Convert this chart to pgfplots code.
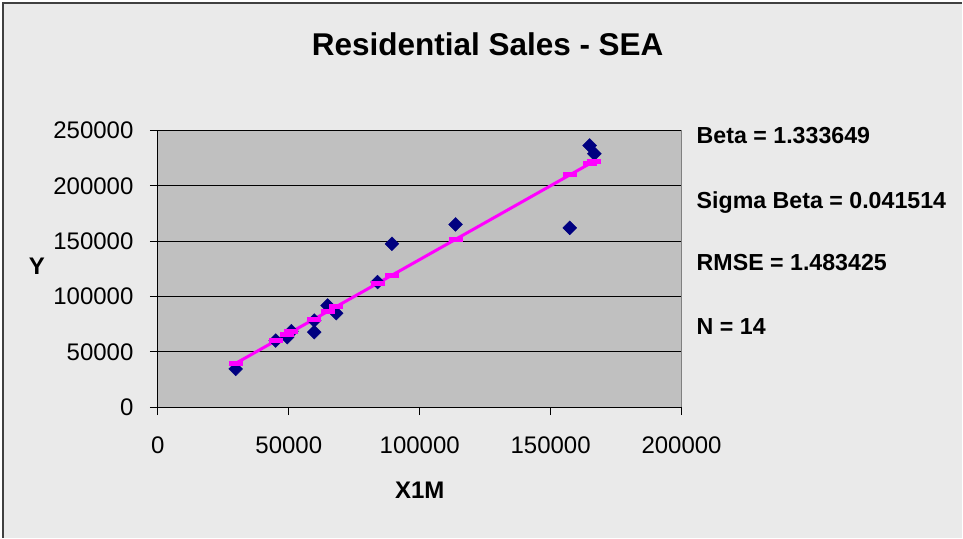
\documentclass[border=0pt]{standalone}
\usepackage{fontspec}
\setmainfont{Liberation Sans}
\usepackage{pgfplots}
\pgfplotsset{compat=1.18}
\definecolor{bg}{HTML}{EAEAEA}
\definecolor{pg}{HTML}{C0C0C0}
\definecolor{navy}{HTML}{000080}
\definecolor{mag}{HTML}{FF00FF}
\begin{document}
\begin{tikzpicture}[x=1pt,y=1pt]
\fill[white] (0,0) rectangle (963,538);
\fill[bg] (3,0) rectangle (963,535);
\draw[line width=1.3pt, black!75] (3,0) -- (3,535) -- (963,535);
\begin{axis}[
  at={(158pt,130.5pt)}, anchor=south west, scale only axis,
  width=524pt, height=277pt,
  xmin=0, xmax=200000, ymin=0, ymax=250000,
  xtick={0,50000,100000,150000,200000},
  xticklabels={0,50000,100000,150000,200000},
  ytick={0,50000,100000,150000,200000,250000},
  yticklabels={0,50000,100000,150000,200000,250000},
  scaled ticks=false,
  axis x line*=bottom, axis y line*=left,
  axis line style={-, black, line width=1pt},
  tick align=outside, major tick length=8pt,
  tick style={black, line width=1pt},
  ymajorgrids, major grid style={black, line width=1pt},
  axis background/.style={fill=pg},
  tick label style={font=\fontsize{24}{28}\selectfont},
  xticklabel style={yshift=-18pt},
  yticklabel style={xshift=-13pt},
  clip=false,
]
\addplot[only marks, mark=square*, mark size=4.9pt,
  mark options={rotate=45, fill=navy, draw=navy}, color=navy] coordinates {
  (29700,34600) (45000,60200) (49400,63300) (51000,68700) (59700,67800)
  (59700,78300) (64800,91900) (68100,84900) (83900,113000) (89400,147600)
  (113700,165100) (157300,162000) (164900,236400) (166700,228900)
};
\addplot[mag, line width=3pt, mark=-, mark size=7pt, mark options={line width=5pt}] coordinates {
  (29700,39609) (45000,60014) (49400,65882) (51000,68016) (59700,79619)
  (59700,79619) (64800,86420) (68100,90821) (83900,111893) (89400,119228)
  (113700,151636) (157300,209783) (164900,219919) (166700,222319)
};
\draw[gray, line width=1pt] (rel axis cs:1,0) -- (rel axis cs:1,1);
\end{axis}
\node[anchor=base, font=\fontsize{31.5}{36}\selectfont\bfseries] at (488,482) {Residential Sales - SEA};
\node[anchor=base, font=\fontsize{24}{28}\selectfont\bfseries] at (37,263) {Y};
\node[anchor=base, font=\fontsize{24}{28}\selectfont\bfseries] at (420,38.7) {X1M};
\begin{scope}[every node/.style={anchor=base west, inner sep=0pt, font=\fontsize{23.2}{27}\selectfont\bfseries}]
\node at (697,394.7) {Beta = 1.333649};
\node at (697,329.7) {Sigma Beta = 0.041514};
\node at (697,267) {RMSE = 1.483425};
\node at (697,203) {N = 14};
\end{scope}
\end{tikzpicture}
\end{document}
